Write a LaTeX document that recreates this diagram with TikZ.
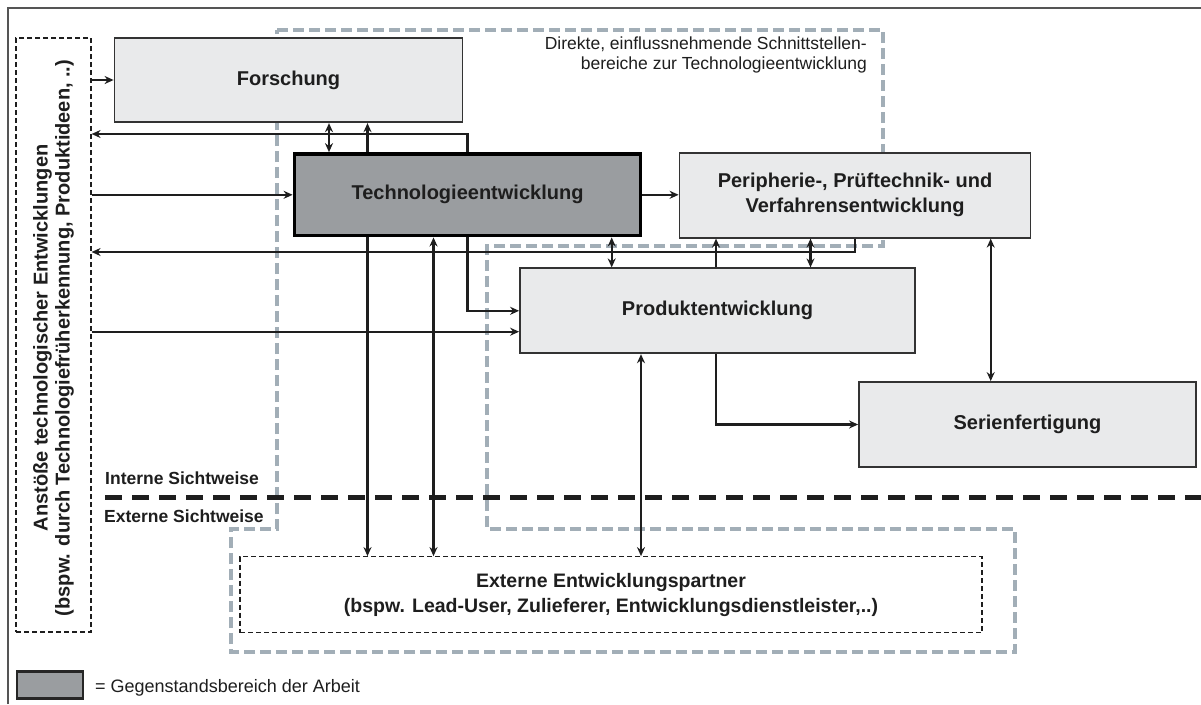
\documentclass[tikz,border=0pt]{standalone}
\usepackage{fontspec}
\setmainfont{Liberation Sans}
\usetikzlibrary{arrows.meta}
\definecolor{boxfill}{HTML}{E9EAEB}
\definecolor{techfill}{HTML}{9A9DA0}
\definecolor{boxborder}{HTML}{333333}
\definecolor{linecol}{HTML}{1E1E1E}
\definecolor{graydash}{HTML}{A2AEB7}
\definecolor{framecol}{HTML}{555555}
\tikzset{
  box/.style={draw=boxborder, line width=1.8pt, fill=boxfill, align=center, inner sep=0pt,
    font=\fontsize{20}{25}\selectfont\bfseries, text=linecol},
  tech/.style={box, draw=black, line width=3.8pt, fill=techfill},
  thindash/.style={draw=linecol, line width=1.2pt, dash pattern=on 5pt off 3pt},
  grayzone/.style={draw=graydash, line width=3.5pt, dash pattern=on 11pt off 5pt},
  viewline/.style={draw=linecol, line width=4.2pt, dash pattern=on 17pt off 10pt},
  conn/.style={draw=linecol, line width=2.2pt},
  arr/.style={conn, -{Stealth[length=9pt,width=8pt]}},
  darr/.style={conn, {Stealth[length=9pt,width=8pt]}-{Stealth[length=9pt,width=8pt]}},
  lbl/.style={inner sep=0pt, text=linecol},
}
\begin{document}
\begin{tikzpicture}[x=1pt,y=-1pt]
\useasboundingbox (0,0) rectangle (1201,704);
\fill[white] (0,0) rectangle (1201,704);
% outer frame
\draw[framecol, line width=1.8pt] (8,704) -- (8,8) -- (1201,8);

% gray dashed zone (direct interface areas)
\draw[grayzone] (277,30) -- (883,30) -- (883,246) -- (487,246) -- (487,529) -- (1015,529)
  -- (1015,652) -- (231,652) -- (231,529) -- (277,529) -- cycle;

% internal / external view line
\draw[viewline] (105,497.5) -- (1201,497.5);
\node[lbl, anchor=west, font=\fontsize{17.5}{20}\selectfont\bfseries] (intern) at (105,478) {Interne Sichtweise};
\node[lbl, anchor=west, font=\fontsize{17.5}{20}\selectfont\bfseries] (extern) at (104,516) {Externe Sichtweise};

% left dashed box
\node[thindash, rectangle, minimum width=75pt, minimum height=594pt, inner sep=0pt] (L) at (53.5,335) {};
\node[lbl, rotate=90, align=center, font=\fontsize{20}{22}\selectfont\bfseries] (Ltext) at (53.5,338)
  {Anstöße technologischer Entwicklungen\\(bspw. durch Technologiefrüherkennung, Produktideen, ..)};

% boxes
\node[box, minimum width=348pt, minimum height=84.5pt] (F) at (288.5,80) {Forschung};
\node[tech, minimum width=346pt, minimum height=81.5pt] (T) at (467.5,194.8) {Technologieentwicklung};
\node[box, minimum width=351pt, minimum height=85pt] (P) at (855,195.2) {Peripherie-, Prüftechnik- und\\Verfahrensentwicklung};
\node[box, minimum width=395pt, minimum height=85pt] (PE) at (717.5,310.8) {Produktentwicklung};
\node[box, minimum width=337pt, minimum height=85pt] (S) at (1027.5,424.5) {Serienfertigung};
\node[thindash, rectangle, minimum width=742pt, minimum height=76pt, align=center, inner sep=0pt,
  font=\fontsize{19.5}{25}\selectfont\bfseries, text=linecol] (E) at (611,594.7)
  {Externe Entwicklungspartner\\(bspw. Lead-User, Zulieferer, Entwicklungsdienstleister,..)};

% annotation
\node[lbl, anchor=north east, align=right, font=\fontsize{17.5}{20}\selectfont] (zone) at (867,37)
  {Direkte, einflussnehmende Schnittstellen-\\bereiche zur Technologieentwicklung};

% helper coordinates
\coordinate (x329) at (329,0);
\coordinate (x367) at (367.5,0);
\coordinate (x433) at (433.5,0);
\coordinate (x611) at (611.7,0);
\coordinate (x641) at (641,0);
\coordinate (x716) at (716,0);
\coordinate (x810) at (810.5,0);
\coordinate (x855) at (854.7,0);
\coordinate (x991) at (990.7,0);
\coordinate (y134) at (0,134);
\coordinate (y252) at (0,252);
\coordinate (y332) at (0,331.7);

% connectors
\draw[arr] (L.east |- F.west) -- (F.west);
\draw[arr] (T.north) |- (L.east |- y134);
\draw[darr] (F.south -| x329) -- (T.north -| x329);
\draw[arr] (T.north -| x367) -- (F.south -| x367);
\draw[arr] (L.east |- T.west) -- (T.west);
\draw[arr] (P.south -| x855) |- (L.east |- y252);
\draw[arr] (L.east |- y332) -- (PE.west |- y332);
\draw[arr] (T.east) -- (T.east -| P.west);
\draw[arr] (T.south) |- (PE.west);
\draw[darr] (T.south -| x611) -- (PE.north -| x611);
\draw[arr] (PE.north -| x716) -- (P.south -| x716);
\draw[darr] (PE.north -| x810) -- (P.south -| x810);
\draw[darr] (P.south -| x991) -- (S.north -| x991);
\draw[arr] (PE.south -| x716) |- (S.west);
\draw[darr] (PE.south -| x641) -- (E.north -| x641);
\draw[arr] (T.south -| x367) -- (E.north -| x367);
\draw[darr] (T.south -| x433) -- (E.north -| x433);

% legend
\node[rectangle, draw=black!85, line width=2.8pt, fill=techfill, minimum width=66pt, minimum height=27pt, inner sep=0pt] (leg) at (50,685) {};
\node[lbl, anchor=west, font=\fontsize{18}{20}\selectfont] (legtext) at (95,688) {= Gegenstandsbereich der Arbeit};
\end{tikzpicture}
\end{document}
